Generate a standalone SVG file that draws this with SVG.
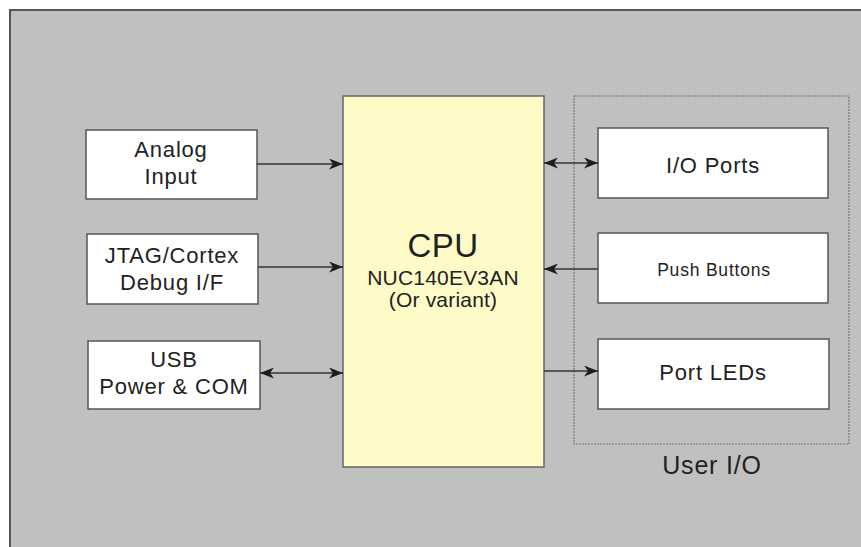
<svg xmlns="http://www.w3.org/2000/svg" width="861" height="547" viewBox="0 0 861 547">
<defs>
<style>
.box{fill:#ffffff;stroke:#555555;stroke-width:1.5}
.cpu{fill:#fffbc8;stroke:#666666;stroke-width:1.5}
.t{font-family:"Liberation Sans",Arial,sans-serif;fill:#222222;text-anchor:middle;letter-spacing:0.8px}
.c{stroke:#333333;stroke-width:1.5;fill:none}
</style>
<marker id="ah" viewBox="0 0 14 11" refX="14" refY="5.5" markerWidth="14" markerHeight="11" markerUnits="userSpaceOnUse" orient="auto-start-reverse">
<path d="M0,0 L14,5.5 L0,11 L4,5.5 z" fill="#1e1e1e"/>
</marker>
</defs>
<rect x="10" y="10" width="880" height="570" fill="#c0c0c0" stroke="#555555" stroke-width="2"/>
<g id="userio-group">
<rect x="574" y="96" width="275" height="348" fill="none" stroke="#777777" stroke-width="1.2" stroke-dasharray="2,1"/>
<text class="t" x="712" y="474" font-size="25">User I/O</text>
</g>
<g id="cpu">
<rect class="cpu" x="343" y="96" width="201" height="371"/>
<text class="t" x="443" y="257" font-size="33" style="letter-spacing:0.5px">CPU</text>
<text class="t" x="443" y="285" font-size="21" style="letter-spacing:0.2px">NUC140EV3AN</text>
<text class="t" x="443" y="307" font-size="21" style="letter-spacing:0.2px">(Or variant)</text>
</g>
<g id="analog">
<rect class="box" x="86" y="130" width="171" height="69"/>
<text class="t" x="171" y="157" font-size="22">Analog</text>
<text class="t" x="171" y="184" font-size="22">Input</text>
</g>
<g id="jtag">
<rect class="box" x="87" y="234" width="171" height="70"/>
<text class="t" x="172" y="263" font-size="22">JTAG/Cortex</text>
<text class="t" x="172" y="290" font-size="22">Debug I/F</text>
</g>
<g id="usb">
<rect class="box" x="88" y="341" width="172" height="68"/>
<text class="t" x="174" y="367" font-size="22">USB</text>
<text class="t" x="174" y="394" font-size="22">Power &amp; COM</text>
</g>
<g id="ioports">
<rect class="box" x="598" y="128" width="230" height="70"/>
<text class="t" x="713" y="173" font-size="22">I/O Ports</text>
</g>
<g id="pushbuttons">
<rect class="box" x="598" y="233" width="230" height="70"/>
<text class="t" x="714" y="276" font-size="17.5">Push Buttons</text>
</g>
<g id="portleds">
<rect class="box" x="598" y="339" width="231" height="70"/>
<text class="t" x="713" y="380" font-size="22">Port LEDs</text>
</g>
<g id="connectors">
<line class="c" x1="257" y1="164" x2="343" y2="164" marker-end="url(#ah)"/>
<line class="c" x1="258" y1="267" x2="343" y2="267" marker-end="url(#ah)"/>
<line class="c" x1="260" y1="373" x2="343" y2="373" marker-start="url(#ah)" marker-end="url(#ah)"/>
<line class="c" x1="544" y1="163" x2="598" y2="163" marker-start="url(#ah)" marker-end="url(#ah)"/>
<line class="c" x1="598" y1="269" x2="544" y2="269" marker-end="url(#ah)"/>
<line class="c" x1="544" y1="371" x2="598" y2="371" marker-end="url(#ah)"/>
</g>
</svg>
